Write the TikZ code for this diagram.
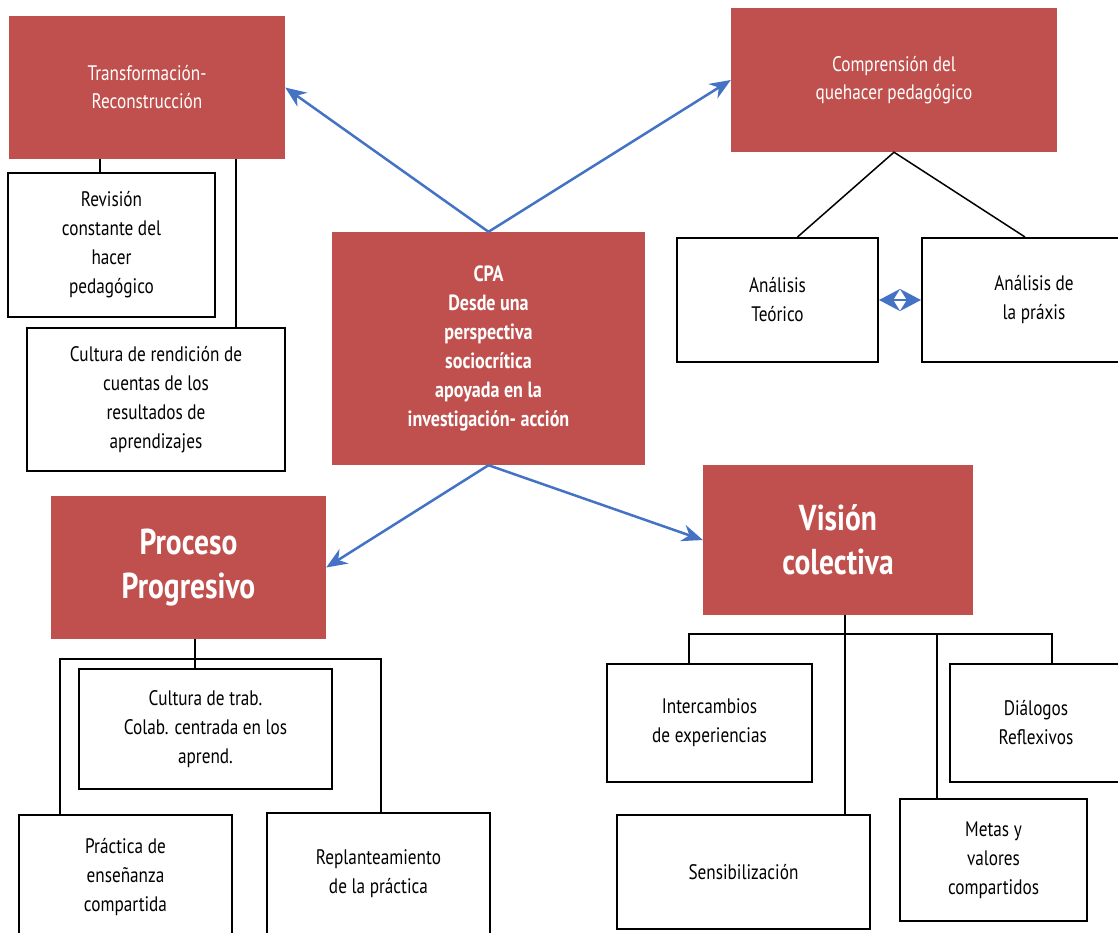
\documentclass[tikz,border=0pt]{standalone}
\usepackage{fontspec}
\setmainfont{PT Sans}[FakeStretch=0.82]
\usetikzlibrary{arrows.meta}

\definecolor{cparojo}{HTML}{C0504D}
\definecolor{cpaazul}{HTML}{4472C4}

\tikzset{
  rojo/.style={rectangle, fill=cparojo, text=white, align=center, inner sep=0pt,
    font=\fontsize{21}{28}\selectfont},
  titulo/.style={rojo, font=\bfseries\fontsize{36}{44}\selectfont},
  blanco/.style={rectangle, draw=black, line width=2pt, fill=white, align=center,
    inner sep=0pt, font=\fontsize{21}{29}\selectfont},
  flecha/.style={cpaazul, line width=2.5pt, -{Stealth[length=21pt,width=17pt]}},
  doble/.style={cpaazul, line width=2.5pt, {Stealth[length=21pt,width=22pt]}-{Stealth[length=21pt,width=22pt]}},
  rama/.style={black, line width=1.5pt},
}

\begin{document}
\begin{tikzpicture}[x=1pt,y=-1pt]
  \useasboundingbox (0,0) rectangle (1118,932);

  % centro
  \node[rojo, font=\bfseries\fontsize{22}{29}\selectfont, minimum width=313pt, minimum height=233pt] (cpa) at (488.5,348.5)
    {CPA\\Desde una\\perspectiva\\sociocrítica\\apoyada en la\\investigación- acción};

  % arriba izquierda
  \node[rojo, minimum width=276pt, minimum height=143pt] (transf) at (147,87.5) {Transformación-\\Reconstrucción};
  \node[blanco, minimum width=207pt, minimum height=144pt] (revision) at (111.5,245)
    {Revisión\\constante del\\hacer\\pedagógico};
  \node[blanco, minimum width=258pt, minimum height=143pt] (rendicion) at (156,399.5)
    {Cultura de rendición de\\cuentas de los\\resultados de\\aprendizajes};

  % arriba derecha
  \node[rojo, minimum width=326pt, minimum height=144pt] (compr) at (894,80) {Comprensión del\\quehacer pedagógico};
  \node[blanco, minimum width=201pt, minimum height=124pt] (teorico) at (777.5,300) {Análisis\\Teórico};
  \node[blanco, minimum width=224pt, minimum height=124pt] (praxis) at (1034,300) {Análisis de\\la práxis};

  % abajo izquierda
  \node[titulo, minimum width=275pt, minimum height=143pt] (proceso) at (188.5,567.5) {Proceso\\Progresivo};
  \node[blanco, minimum width=253pt, minimum height=120pt] (trab) at (205.5,729)
    {Cultura de trab.\\Colab. centrada en los\\aprend.};
  \node[blanco, minimum width=213pt, minimum height=124pt] (practica) at (125.5,877)
    {Práctica de\\enseñanza\\compartida};
  \node[blanco, minimum width=223pt, minimum height=122pt] (replant) at (378.5,874)
    {Replanteamiento\\de la práctica};

  % abajo derecha
  \node[titulo, minimum width=270pt, minimum height=150pt] (vision) at (838,540) {Visión\\colectiva};
  \node[blanco, minimum width=205pt, minimum height=118pt] (interc) at (709.5,723) {Intercambios\\de experiencias};
  \node[blanco, minimum width=253pt, minimum height=114pt] (sensib) at (743.5,872) {Sensibilización};
  \node[blanco, minimum width=172pt, minimum height=118pt] (dialogos) at (1036,723) {Diálogos\\Reflexivos};
  \node[blanco, minimum width=187pt, minimum height=122pt] (metas) at (993.5,860) {Metas y\\valores\\compartidos};

  % ramas
  \coordinate (jt1) at (100,0);
  \coordinate (jt2) at (236,0);
  \draw[rama] (transf.south -| jt1) -- (revision.north -| jt1);
  \draw[rama] (transf.south -| jt2) -- (rendicion.north -| jt2);

  \draw[rama] ([xshift=20pt]teorico.north) -- (compr.south) -- ([xshift=-9pt]praxis.north);

  \coordinate (jp) at (195,659);
  \coordinate (jpl) at (60,659);
  \coordinate (jpr) at (381,659);
  \draw[rama] (proceso.south -| jp) -- (trab.north -| jp);
  \draw[rama] (practica.north -| jpl) |- (jpr) -- (replant.north -| jpr);

  \coordinate (jv) at (845,634);
  \coordinate (ji) at (689,634);
  \coordinate (jm) at (937,634);
  \coordinate (jd) at (1052,634);
  \draw[rama] (vision.south -| jv) -- (sensib.north -| jv);
  \draw[rama] (interc.north -| ji) |- (jd) -- (dialogos.north -| jd);
  \draw[rama] (jm) -- (metas.north -| jm);

  % flechas
  \draw[flecha] (cpa.north) -- (transf.east);
  \draw[flecha] (cpa.north) -- (compr.west);
  \draw[flecha] (cpa.south) -- (proceso.east);
  \draw[flecha] (cpa.south) -- (vision.west);
  \draw[doble] (teorico.east) -- (praxis.west);
\end{tikzpicture}
\end{document}
